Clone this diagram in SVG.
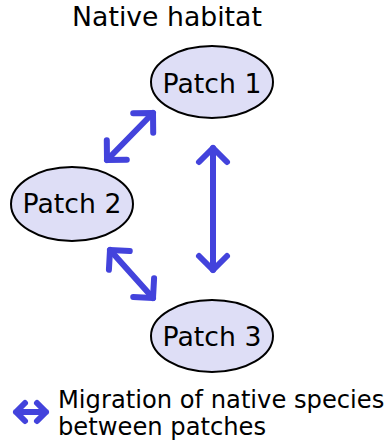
<svg xmlns="http://www.w3.org/2000/svg" width="388" height="447" viewBox="0 0 388 447">
<style>
.node ellipse{fill:#dedef6;stroke:#000;stroke-width:2}
text{font-family:"DejaVu Sans",sans-serif;fill:#000}
.lbl{font-size:26.7px;text-anchor:middle}
.arr{fill:none;stroke:#4343dc;stroke-width:6;stroke-linecap:round;stroke-linejoin:round}
</style>
<defs>
<marker id="head" markerUnits="userSpaceOnUse" viewBox="-20 -20 40 40" markerWidth="40" markerHeight="40" refX="0" refY="0" orient="auto-start-reverse" overflow="visible">
<path d="M-14,-14 L0,0 L-14,14" fill="none" stroke="#4343dc" stroke-width="6" stroke-linecap="round" stroke-linejoin="round"/>
</marker>
</defs>
<text x="167" y="26" class="lbl">Native habitat</text>
<g id="connectors">
<path class="arr" d="M153,113 L107,160" marker-start="url(#head)" marker-end="url(#head)"/>
<path class="arr" d="M110,250 L153,298" marker-start="url(#head)" marker-end="url(#head)"/>
<path class="arr" d="M213,148 L213,270" marker-start="url(#head)" marker-end="url(#head)"/>
</g>
<g id="patch1" class="node"><ellipse cx="212" cy="82" rx="61" ry="36"/><text x="212" y="93" class="lbl">Patch 1</text></g>
<g id="patch2" class="node"><ellipse cx="72" cy="204" rx="61" ry="37"/><text x="72" y="213" class="lbl">Patch 2</text></g>
<g id="patch3" class="node"><ellipse cx="212" cy="336" rx="61" ry="36"/><text x="212" y="346" class="lbl">Patch 3</text></g>
<g id="legend">
<path class="arr" d="M25,403 L16,412 L25,421 M16,412 L46,412 M37,403 L46,412 L37,421"/>
<text x="58" y="408" font-size="24.2px">Migration of native species</text>
<text x="58" y="435" font-size="24.2px">between patches</text>
</g>
</svg>
